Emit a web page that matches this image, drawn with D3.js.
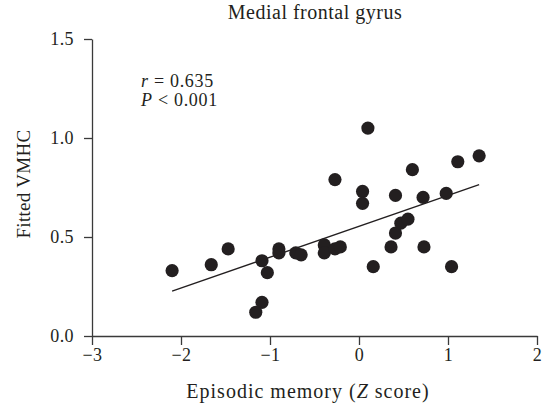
<!DOCTYPE html>
<html>
<head>
<meta charset="utf-8">
<script src="https://cdn.jsdelivr.net/npm/d3@7"></script>
<style>
  body { margin: 0; background: #fff; }
  svg { display: block; }
  text { font-family: "Liberation Serif", "Times New Roman", serif; fill: #231f20; }
</style>
</head>
<body>
<script>
// values
var memoryZ = [-2.10, -1.66, -1.47, -1.09, -1.03, -1.09, -1.16, -0.90, -0.90, -0.71,
               -0.65, -0.39, -0.39, -0.27, -0.21, -0.27, 0.04, 0.04, 0.10, 0.16,
               0.36, 0.41, 0.41, 0.47, 0.55, 0.60, 0.72, 0.73, 0.98, 1.04,
               1.11, 1.35];
var fittedVMHC = [0.33, 0.36, 0.44, 0.38, 0.32, 0.17, 0.12, 0.44, 0.42, 0.42,
                  0.41, 0.46, 0.42, 0.44, 0.45, 0.79, 0.73, 0.67, 1.05, 0.35,
                  0.45, 0.71, 0.52, 0.57, 0.59, 0.84, 0.70, 0.45, 0.72, 0.35,
                  0.88, 0.91];
var fitSlope = 0.156, fitIntercept = 0.554;
var xTicks = [-3, -2, -1, 0, 1, 2];
var yTicks = [0, 0.5, 1.0, 1.5];

var width = 553, height = 407;

var svg = d3.select("body").append("svg")
    .attr("width", width)
    .attr("height", height);

var x = d3.scaleLinear().domain([-3, 2]).range([92, 537]);
var y = d3.scaleLinear().domain([0, 1.5]).range([336, 39]);

//axes
var xAxis = svg.append("g")
    .attr("transform", "translate(0," + y(0) + ")")
    .call(d3.axisBottom(x).tickValues(xTicks).tickFormat(d3.format("d"))
      .tickSize(9).tickPadding(3).tickSizeOuter(0));

var yAxis = svg.append("g")
    .attr("transform", "translate(" + x(-3) + ",0)")
    .call(d3.axisLeft(y).tickValues(yTicks).tickFormat(d3.format(".1f"))
      .tickSize(8).tickPadding(10).tickSizeOuter(0));

[xAxis, yAxis].forEach(function(g) {
  g.selectAll("path, line").attr("stroke", "#3a3a3a").attr("stroke-width", 1.3);
  g.selectAll("text")
    .attr("fill", "#231f20")
    .style("font-family", "'Liberation Serif', serif")
    .style("font-size", "18px")
    .style("letter-spacing", "0.4px");
});

//regression line
var xs = d3.extent(memoryZ);
svg.append("line")
    .attr("x1", x(xs[0])).attr("y1", y(fitIntercept + fitSlope * xs[0]))
    .attr("x2", x(xs[1])).attr("y2", y(fitIntercept + fitSlope * xs[1]))
    .attr("stroke", "#231f20")
    .attr("stroke-width", 1.4);

//points
svg.selectAll("circle")
    .data(memoryZ)
  .enter().append("circle")
    .attr("cx", function(d) { return x(d); })
    .attr("cy", function(d, i) { return y(fittedVMHC[i]); })
    .attr("r", 6.6)
    .style("fill", "#231f20");

//title & labels
svg.append("text")
    .attr("x", 315).attr("y", 19)
    .attr("text-anchor", "middle")
    .style("font-size", "20px")
    .style("letter-spacing", "0.5px")
    .text("Medial frontal gyrus");

var xl = svg.append("text")
    .attr("x", 308).attr("y", 398)
    .attr("text-anchor", "middle")
    .style("font-size", "20px")
    .style("letter-spacing", "1px");
xl.append("tspan").text("Episodic memory (");
xl.append("tspan").style("font-style", "italic").text("Z");
xl.append("tspan").text(" score)");

svg.append("text")
    .attr("transform", "translate(30,184) rotate(-90)")
    .attr("text-anchor", "middle")
    .style("font-size", "19px")
    .style("letter-spacing", "0.3px")
    .text("Fitted VMHC");

var r1 = svg.append("text").attr("x", 141).attr("y", 87)
    .style("font-size", "18px").style("letter-spacing", "0.7px");
r1.append("tspan").style("font-style", "italic").text("r");
r1.append("tspan").text(" = 0.635");

var p1 = svg.append("text").attr("x", 141).attr("y", 106)
    .style("font-size", "18px").style("letter-spacing", "0.7px");
p1.append("tspan").style("font-style", "italic").text("P");
p1.append("tspan").text(" < 0.001");
</script>
</body>
</html>
